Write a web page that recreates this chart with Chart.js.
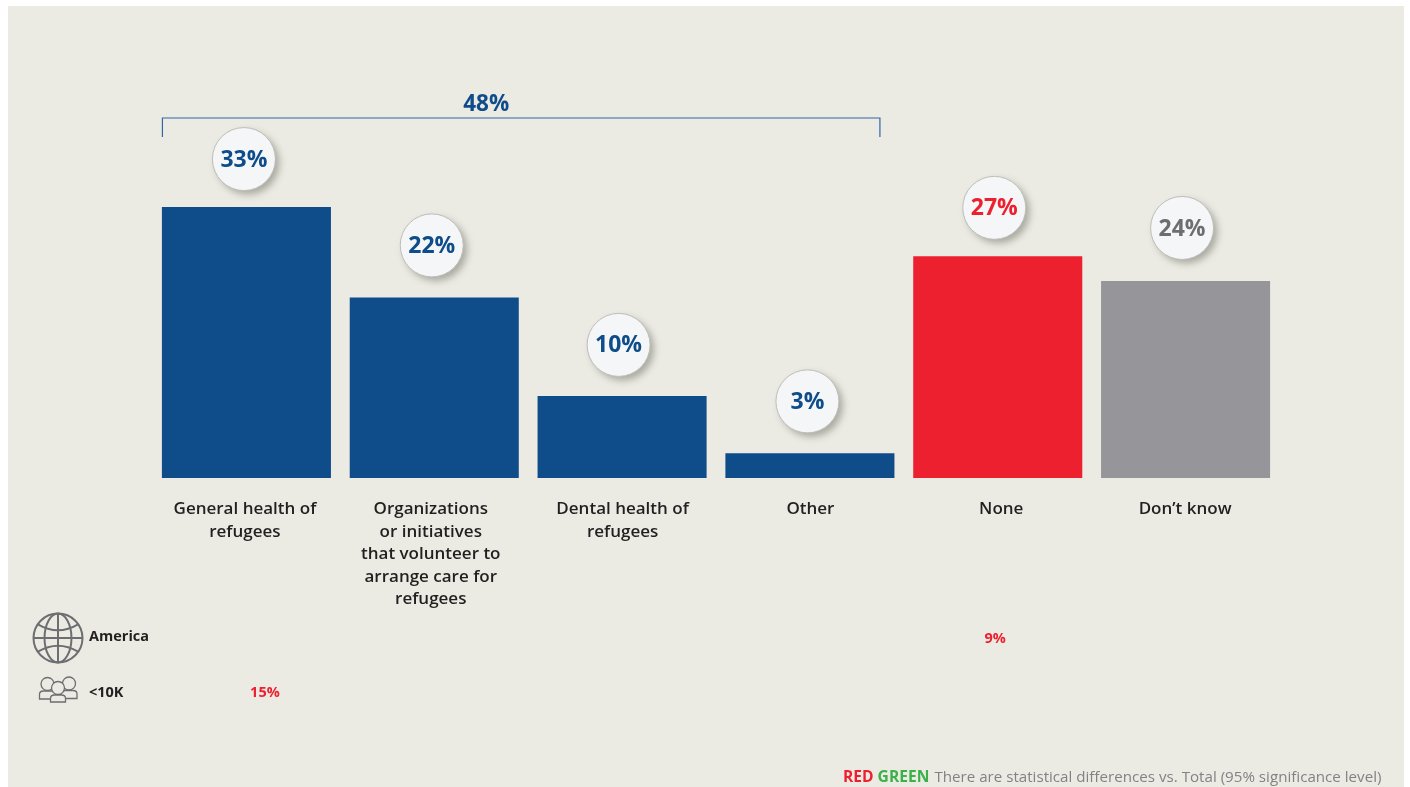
<!DOCTYPE html>
<html>
<head>
<meta charset="utf-8">
<script src="https://cdn.jsdelivr.net/npm/chart.js@4"></script>
<style>
  html, body { margin: 0; background: #fff; }
  #panel { position: absolute; left: 8px; top: 6px; width: 1396px; height: 781px; background: #ecebe3; }
  #wrap { position: absolute; left: 0; top: 0; width: 1410px; height: 787px; }
</style>
</head>
<body>
<div id="panel"></div>
<div id="wrap"><canvas id="c" width="1410" height="787"></canvas></div>
<script>
const categories = [
  ['General health of', 'refugees'],
  ['Organizations', 'or initiatives', 'that volunteer to', 'arrange care for', 'refugees'],
  ['Dental health of', 'refugees'],
  ['Other'],
  ['None'],
  ['Don\u2019t know']
];
const values = [33, 22, 10, 3, 27, 24];
const barColors = ['#0f4c8a', '#0f4c8a', '#0f4c8a', '#0f4c8a', '#ed2030', '#96969a'];
const badgeColors = ['#0f4c8a', '#0f4c8a', '#0f4c8a', '#0f4c8a', '#ed2030', '#6d6e71'];
const netValue = 48;
const subgroupRows = [
  { label: 'America', icon: 'globe', callouts: [{ category: 4, text: '9%' }] },
  { label: '<10K', icon: 'people', callouts: [{ category: 0, text: '15%' }] }
];

const FONT = '"Open Sans", Lato, sans-serif';
const BLUE = '#0f4c8a', RED = '#ed2030', GREEN = '#3cb04a', GREY = '#808285', INK = '#231f20';

// Small per-category nudges for the category labels and value badges.
const labelNudge = [-1.5, -3.5, 0.5, 0.5, 3.5, -0.5];
const badgeLift = [48, 52, 51, 52, 48.5, 53];
const badgeNudge = [-2.5, -2.5, -3.5, -2.5, -3.5, -3.5];

function drawGlobe(ctx, cx, cy, r) {
  ctx.save();
  ctx.strokeStyle = '#6d6e71';
  ctx.lineWidth = 2;
  ctx.beginPath(); ctx.arc(cx, cy, r, 0, Math.PI * 2); ctx.stroke();
  ctx.beginPath(); ctx.ellipse(cx, cy, r * 0.55, r, 0, 0, Math.PI * 2); ctx.stroke();
  ctx.beginPath();
  ctx.moveTo(cx, cy - r); ctx.lineTo(cx, cy + r);
  ctx.moveTo(cx - r, cy); ctx.lineTo(cx + r, cy);
  ctx.stroke();
  ctx.beginPath(); ctx.moveTo(cx - r * 0.82, cy - r * 0.56);
  ctx.quadraticCurveTo(cx, cy - r * 0.08, cx + r * 0.82, cy - r * 0.56); ctx.stroke();
  ctx.beginPath(); ctx.moveTo(cx - r * 0.82, cy + r * 0.56);
  ctx.quadraticCurveTo(cx, cy + r * 0.08, cx + r * 0.82, cy + r * 0.56); ctx.stroke();
  ctx.restore();
}

function drawPerson(ctx, cx, cy, r, w, h) {
  ctx.beginPath(); ctx.arc(cx, cy, r, 0, Math.PI * 2); ctx.fill(); ctx.stroke();
  ctx.beginPath();
  const top = cy + r + 0.5;
  ctx.moveTo(cx - w, top + h);
  ctx.lineTo(cx - w, top + 3.5);
  ctx.quadraticCurveTo(cx - w, top, cx - w + 4, top);
  ctx.lineTo(cx + w - 4, top);
  ctx.quadraticCurveTo(cx + w, top, cx + w, top + 3.5);
  ctx.lineTo(cx + w, top + h);
  ctx.closePath();
  ctx.fill(); ctx.stroke();
}

function drawPeople(ctx, cx, cy) {
  ctx.save();
  ctx.strokeStyle = '#6d6e71';
  ctx.fillStyle = '#ecebe3';
  ctx.lineWidth = 1.3;
  drawPerson(ctx, cx - 10.5, cy - 7, 6.5, 8, 8);
  drawPerson(ctx, cx + 11, cy - 7.5, 6.5, 8, 8);
  drawPerson(ctx, cx, cy - 3, 6.5, 7.5, 7);
  ctx.restore();
}

const annotations = {
  id: 'annotations',
  beforeDraw(chart) {
    // Shift the tick label anchors so the wrapped captions sit where they should.
    const items = chart.scales.x.getLabelItems();
    items.forEach((item, i) => {
      if (!item.options.__nudged) {
        item.options.translation[0] += labelNudge[i];
        item.options.__nudged = true;
      }
    });
  },
  afterDatasetsDraw(chart) {
    const { ctx, scales: { x, y } } = chart;
    ctx.save();
    ctx.textAlign = 'center';
    ctx.textBaseline = 'middle';

    // Net bracket over the four substantive answers
    const bl = x.getPixelForValue(0) - 84;
    const br = x.getPixelForValue(3) + 70;
    ctx.strokeStyle = '#2f66a6';
    ctx.lineWidth = 1.2;
    ctx.beginPath();
    ctx.moveTo(bl, 137); ctx.lineTo(bl, 118); ctx.lineTo(br, 118); ctx.lineTo(br, 137);
    ctx.stroke();
    ctx.fillStyle = BLUE;
    ctx.font = '700 22.5px ' + FONT;
    ctx.fillText(netValue + '%', (bl + br) / 2 - 35, 105);

    // Circular value badges
    values.forEach((v, i) => {
      const cx = x.getPixelForValue(i) + badgeNudge[i];
      const cy = y.getPixelForValue(v) - badgeLift[i];
      ctx.save();
      ctx.shadowColor = 'rgba(90,90,80,0.45)';
      ctx.shadowBlur = 7;
      ctx.shadowOffsetX = 4;
      ctx.shadowOffsetY = 4;
      ctx.fillStyle = '#f4f6f7';
      ctx.beginPath(); ctx.arc(cx, cy, 31.5, 0, Math.PI * 2); ctx.fill();
      ctx.restore();
      ctx.strokeStyle = '#bdbdb9';
      ctx.lineWidth = 1;
      ctx.beginPath(); ctx.arc(cx, cy, 31.5, 0, Math.PI * 2); ctx.stroke();
      ctx.fillStyle = badgeColors[i];
      ctx.font = '700 23px ' + FONT;
      ctx.fillText(v + '%', cx, cy + 1);
    });

    // Subgroup rows under the captions
    const rowY = [637, 693];
    const calloutY = [639, 693];
    const calloutNudge = [-2.5, 18.5];
    subgroupRows.forEach((row, r) => {
      if (row.icon === 'globe') drawGlobe(ctx, 58, 638, 24.5);
      else drawPeople(ctx, 58, 691);
      ctx.textAlign = 'left';
      ctx.fillStyle = INK;
      ctx.font = '700 14.5px ' + FONT;
      ctx.fillText(row.label, 89, rowY[r]);
      ctx.textAlign = 'center';
      ctx.fillStyle = RED;
      row.callouts.forEach(c => {
        ctx.fillText(c.text, x.getPixelForValue(c.category) + calloutNudge[r], calloutY[r]);
      });
    });

    // Significance footnote
    ctx.textAlign = 'left';
    ctx.font = '700 15.6px ' + FONT;
    let tx = 843;
    ctx.fillStyle = RED; ctx.fillText('RED', tx, 778);
    tx += ctx.measureText('RED ').width;
    ctx.fillStyle = GREEN; ctx.fillText('GREEN', tx, 778);
    tx += ctx.measureText('GREEN ').width;
    ctx.font = '400 15.15px ' + FONT;
    ctx.fillStyle = GREY;
    ctx.fillText('There are statistical differences vs. Total (95% significance level)', tx + 1, 778);
    ctx.restore();
  }
};

new Chart(document.getElementById('c'), {
  type: 'bar',
  data: {
    labels: categories,
    datasets: [{
      data: values,
      backgroundColor: barColors,
      borderWidth: 0,
      barPercentage: 0.9,
      categoryPercentage: 1
    }]
  },
  options: {
    responsive: false,
    animation: false,
    layout: { padding: { left: 152.5, right: 130.5, top: 67.5, bottom: 0 } },
    plugins: { legend: { display: false }, title: { display: false }, tooltip: { enabled: false } },
    scales: {
      x: {
        grid: { display: false },
        border: { display: false },
        afterFit(scale) { scale.height = 309; },
        ticks: {
          maxRotation: 0,
          minRotation: 0,
          autoSkip: false,
          padding: 12,
          color: INK,
          font: { family: FONT, size: 17, weight: '600', lineHeight: 1.325 }
        }
      },
      y: { display: false, min: 0, max: 50 }
    }
  },
  plugins: [annotations]
});
</script>
</body>
</html>
